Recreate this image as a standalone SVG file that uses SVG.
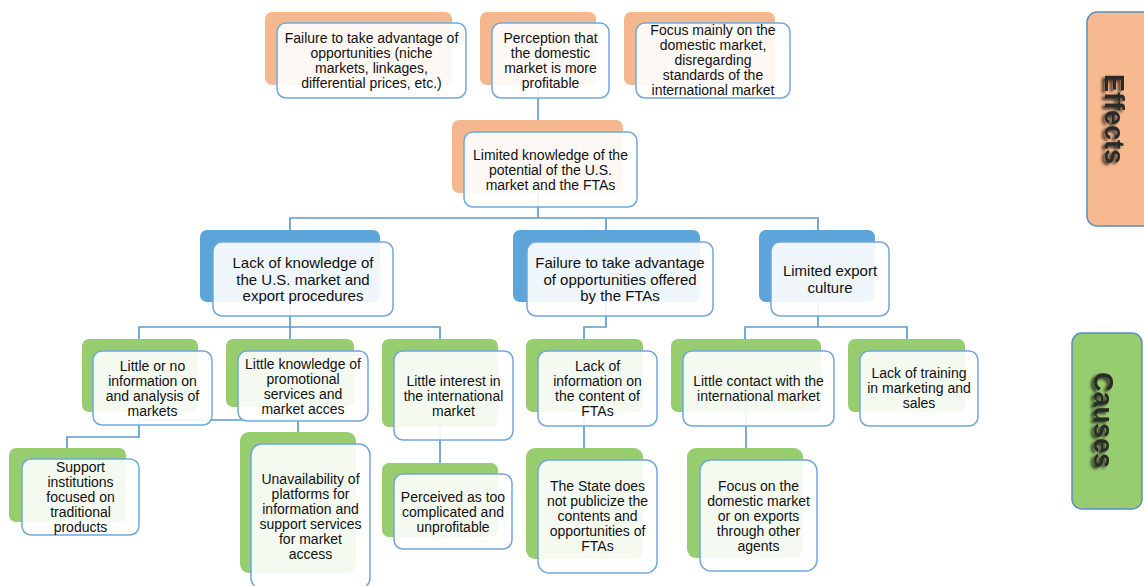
<svg xmlns="http://www.w3.org/2000/svg" width="1144" height="586" viewBox="0 0 1144 586">
<defs>
<style>
.bo{fill:#F5B88E}
.bg{fill:#97CC6F}
.bb{fill:#5DA4D9}
.fr{fill:#FFFFFF;fill-opacity:0.9;stroke:#6FA8DC;stroke-width:1.5}
.t{font-family:"Liberation Sans",Arial,sans-serif;font-size:14px;fill:#111;text-anchor:middle}
.tb{font-family:"Liberation Sans",Arial,sans-serif;font-size:15px;fill:#111;text-anchor:middle}
.c{fill:none;stroke:#5E9BD1;stroke-width:1.7}
.side{font-family:"Liberation Sans",Arial,sans-serif;font-weight:bold;font-size:27px;fill:#2a2a2a;text-anchor:middle}
</style>
<filter id="sh" x="-30%" y="-60%" width="160%" height="220%">
<feGaussianBlur in="SourceAlpha" stdDeviation="1.6" result="b"/>
<feOffset in="b" dx="1.5" dy="2.5" result="o"/>
<feComponentTransfer in="o" result="s"><feFuncA type="linear" slope="0.75"/></feComponentTransfer>
<feMerge><feMergeNode in="s"/><feMergeNode in="SourceGraphic"/></feMerge>
</filter>
</defs>
<rect width="1144" height="586" fill="#FFFFFF"/>

<g id="connectors">
<path class="c" d="M538,50 V170"/>
<path class="c" d="M538,170 V218 M290,230 V218 H818 V230 M606,218 V230"/>
<path class="c" d="M290,266 V327 M139,339 V327 H440 V339 M290,327 V339"/>
<path class="c" d="M606,266 V327 H584 V339"/>
<path class="c" d="M818,266 V327 M745,339 V327 H907 V339"/>
<path class="c" d="M139,375 V437 H67 V448"/>
<path class="c" d="M139,412 V420 H298 V432"/>
<path class="c" d="M440,383 V463"/>
<path class="c" d="M584,375 V448"/>
<path class="c" d="M746,375 V448"/>
</g>

<g id="e1"><rect class="bo" x="265" y="12" width="187" height="73" rx="7"/><rect class="fr" x="277" y="23" width="189" height="75" rx="9"/>
<text class="t"><tspan x="371.5" y="43">Failure to take advantage of</tspan><tspan x="371.5" y="58">opportunities (niche</tspan><tspan x="371.5" y="73">markets, linkages,</tspan><tspan x="371.5" y="88">differential prices, etc.)</tspan></text></g>

<g id="e2"><rect class="bo" x="480" y="12" width="116" height="73" rx="7"/><rect class="fr" x="492" y="23" width="117" height="75" rx="9"/>
<text class="t"><tspan x="550.5" y="43">Perception that</tspan><tspan x="550.5" y="58">the domestic</tspan><tspan x="550.5" y="73">market is more</tspan><tspan x="550.5" y="88">profitable</tspan></text></g>

<g id="e3"><rect class="bo" x="624" y="12" width="151" height="73" rx="7"/><rect class="fr" x="636" y="23" width="154" height="75" rx="9"/>
<text class="t"><tspan x="713" y="35">Focus mainly on the</tspan><tspan x="713" y="50">domestic market,</tspan><tspan x="713" y="65">disregarding</tspan><tspan x="713" y="80">standards of the</tspan><tspan x="713" y="95">international market</tspan></text></g>

<g id="central"><rect class="bo" x="452" y="120" width="171" height="73" rx="7"/><rect class="fr" x="464" y="132" width="173" height="75" rx="9"/>
<text class="t"><tspan x="550.5" y="159.5">Limited knowledge of the</tspan><tspan x="550.5" y="174.5">potential of the U.S.</tspan><tspan x="550.5" y="189.5">market and the FTAs</tspan></text></g>

<g id="a"><rect class="bb" x="200" y="230" width="180" height="72" rx="7"/><rect class="fr" x="213" y="242" width="180" height="74" rx="9"/>
<text class="tb"><tspan x="303" y="268">Lack of knowledge of</tspan><tspan x="303" y="284.5">the U.S. market and</tspan><tspan x="303" y="301">export procedures</tspan></text></g>

<g id="b"><rect class="bb" x="513" y="230" width="187" height="72" rx="7"/><rect class="fr" x="527" y="242" width="186" height="74" rx="9"/>
<text class="tb"><tspan x="620" y="268">Failure to take advantage</tspan><tspan x="620" y="284.5">of opportunities offered</tspan><tspan x="620" y="301">by the FTAs</tspan></text></g>

<g id="c"><rect class="bb" x="759" y="230" width="116" height="72" rx="7"/><rect class="fr" x="771" y="242" width="118" height="74" rx="9"/>
<text class="tb"><tspan x="830" y="276">Limited export</tspan><tspan x="830" y="292.5">culture</tspan></text></g>

<g id="a1"><rect class="bg" x="82" y="339" width="116" height="73" rx="7"/><rect class="fr" x="93" y="351" width="119" height="74" rx="9"/>
<text class="t"><tspan x="152.5" y="370.5">Little or no</tspan><tspan x="152.5" y="385.5">information on</tspan><tspan x="152.5" y="400.5">and analysis of</tspan><tspan x="152.5" y="415.5">markets</tspan></text></g>

<g id="a2"><rect class="bg" x="226" y="339" width="128" height="68" rx="7"/><rect class="fr" x="238" y="351" width="130" height="70" rx="9"/>
<text class="t"><tspan x="303" y="368.5">Little knowledge of</tspan><tspan x="303" y="383.5">promotional</tspan><tspan x="303" y="398.5">services and</tspan><tspan x="303" y="413.5">market acces</tspan></text></g>

<g id="a3"><rect class="bg" x="382" y="339" width="116" height="88" rx="7"/><rect class="fr" x="394" y="351" width="119" height="89" rx="9"/>
<text class="t"><tspan x="453.5" y="385.5">Little interest in</tspan><tspan x="453.5" y="400.5">the international</tspan><tspan x="453.5" y="415.5">market</tspan></text></g>

<g id="a1a"><rect class="bg" x="9" y="448" width="117" height="74" rx="7"/><rect class="fr" x="22" y="459" width="117" height="76" rx="9"/>
<text class="t"><tspan x="80.5" y="472">Support</tspan><tspan x="80.5" y="487">institutions</tspan><tspan x="80.5" y="502">focused on</tspan><tspan x="80.5" y="517">traditional</tspan><tspan x="80.5" y="532">products</tspan></text></g>

<g id="a2a"><rect class="bg" x="240" y="432" width="116" height="141" rx="9"/><rect class="fr" x="251" y="444" width="119" height="145" rx="11"/>
<text class="t"><tspan x="310.5" y="484">Unavailability of</tspan><tspan x="310.5" y="499">platforms for</tspan><tspan x="310.5" y="514">information and</tspan><tspan x="310.5" y="529">support services</tspan><tspan x="310.5" y="544">for market</tspan><tspan x="310.5" y="559">access</tspan></text></g>

<g id="a3a"><rect class="bg" x="382" y="463" width="116" height="74" rx="7"/><rect class="fr" x="394" y="474" width="118" height="75" rx="9"/>
<text class="t"><tspan x="453" y="501.5">Perceived as too</tspan><tspan x="453" y="516.5">complicated and</tspan><tspan x="453" y="531.5">unprofitable</tspan></text></g>

<g id="b1"><rect class="bg" x="526" y="339" width="117" height="73" rx="7"/><rect class="fr" x="538" y="351" width="119" height="75" rx="9"/>
<text class="t"><tspan x="597.5" y="370.5">Lack of</tspan><tspan x="597.5" y="385.5">information on</tspan><tspan x="597.5" y="400.5">the content of</tspan><tspan x="597.5" y="415.5">FTAs</tspan></text></g>

<g id="b1a"><rect class="bg" x="526" y="448" width="117" height="111" rx="9"/><rect class="fr" x="538" y="460" width="119" height="113" rx="11"/>
<text class="t"><tspan x="597.5" y="491">The State does</tspan><tspan x="597.5" y="506">not publicize the</tspan><tspan x="597.5" y="521">contents and</tspan><tspan x="597.5" y="536">opportunities of</tspan><tspan x="597.5" y="551">FTAs</tspan></text></g>

<g id="c1"><rect class="bg" x="671" y="339" width="150" height="73" rx="7"/><rect class="fr" x="683" y="351" width="151" height="75" rx="9"/>
<text class="t"><tspan x="758.5" y="385.5">Little contact with the</tspan><tspan x="758.5" y="400.5">international market</tspan></text></g>

<g id="c2"><rect class="bg" x="848" y="339" width="117" height="73" rx="7"/><rect class="fr" x="860" y="351" width="118" height="75" rx="9"/>
<text class="t"><tspan x="919" y="378">Lack of training</tspan><tspan x="919" y="393">in marketing and</tspan><tspan x="919" y="408">sales</tspan></text></g>

<g id="c1a"><rect class="bg" x="687" y="448" width="116" height="110" rx="9"/><rect class="fr" x="700" y="460" width="117" height="111" rx="11"/>
<text class="t"><tspan x="758.5" y="490.5">Focus on the</tspan><tspan x="758.5" y="505.5">domestic market</tspan><tspan x="758.5" y="520.5">or on exports</tspan><tspan x="758.5" y="535.5">through other</tspan><tspan x="758.5" y="550.5">agents</tspan></text></g>

<g id="effects-label"><rect x="1087" y="12" width="70" height="214" rx="10" fill="#F6B990" stroke="#5A8FC0" stroke-width="1.5"/>
<text class="side" filter="url(#sh)" transform="translate(1115,119) rotate(90)" y="9.5">Effects</text></g>

<g id="causes-label"><rect x="1072" y="333" width="70" height="176" rx="10" fill="#97CC6F" stroke="#5A8FC0" stroke-width="1.5"/>
<text class="side" filter="url(#sh)" transform="translate(1104,420) rotate(90)" y="9.5">Causes</text></g>
</svg>
